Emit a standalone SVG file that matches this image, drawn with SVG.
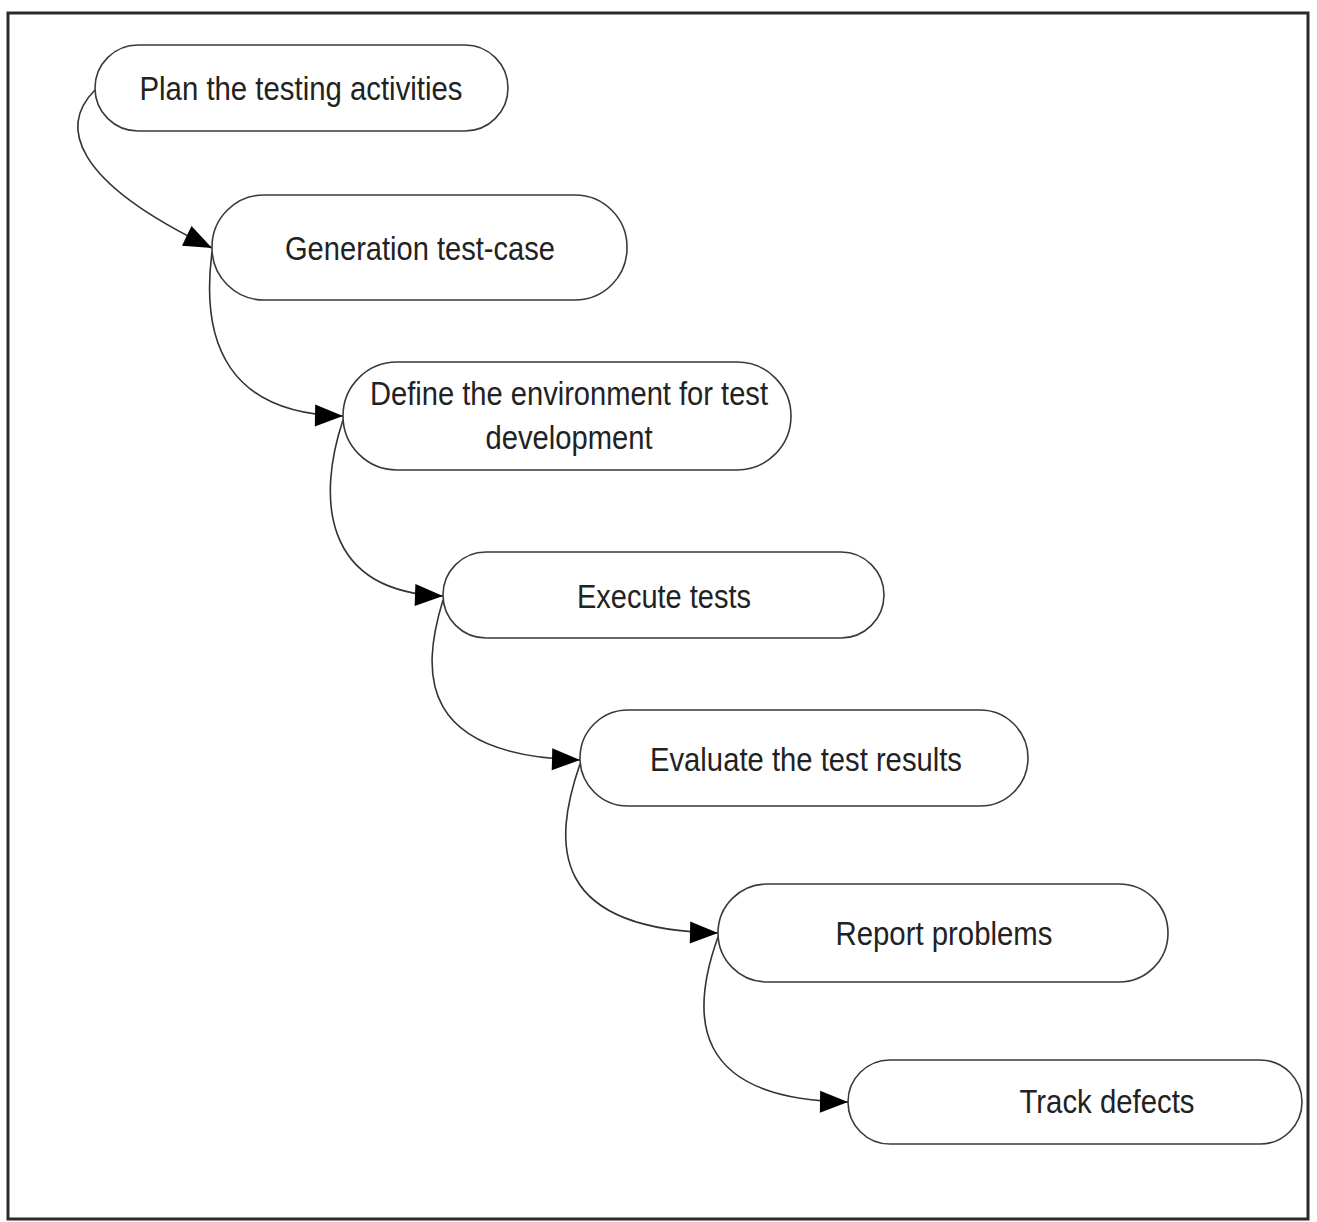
<svg xmlns="http://www.w3.org/2000/svg" width="1317" height="1222" viewBox="0 0 1317 1222">
  <style>
    .node { fill: #ffffff; stroke: #3a3a3a; stroke-width: 1.6; }
    .lbl { font-family: "Liberation Sans", Arial, sans-serif; font-size: 34px; fill: #222222; text-anchor: middle; }
    .conn { fill: none; stroke: #333333; stroke-width: 1.6; marker-end: url(#arrow); }
  </style>
  <defs>
    <marker id="arrow" markerUnits="userSpaceOnUse" markerWidth="30" markerHeight="24" refX="29" refY="12" orient="auto">
      <path d="M1,1 L29,12 L1,23 z" fill="#000000"/>
    </marker>
  </defs>
  <rect x="0" y="0" width="1317" height="1222" fill="#ffffff"/>
  <rect x="8" y="13" width="1300" height="1206" fill="none" stroke="#2a2a2a" stroke-width="3"/>

  <g id="connectors">
    <path class="conn" d="M95,90 C60,125 70,180 212,248"/>
    <path class="conn" d="M212,252 C200,345 230,414 343,416"/>
    <path class="conn" d="M343,420 C318,495 320,592 443,596"/>
    <path class="conn" d="M443,600 C420,675 420,756 580,760"/>
    <path class="conn" d="M580,764 C552,845 550,930 718,933"/>
    <path class="conn" d="M718,937 C690,1015 690,1100 848,1102"/>
  </g>

  <g id="node1">
    <rect class="node" x="95" y="45" width="413" height="86" rx="43" ry="43"/>
    <text class="lbl" x="301" y="100" textLength="323" lengthAdjust="spacingAndGlyphs">Plan the testing activities</text>
  </g>
  <g id="node2">
    <rect class="node" x="212" y="195" width="415" height="105" rx="52" ry="52"/>
    <text class="lbl" x="420" y="260" textLength="270" lengthAdjust="spacingAndGlyphs">Generation test-case</text>
  </g>
  <g id="node3">
    <rect class="node" x="343" y="362" width="448" height="108" rx="54" ry="54"/>
    <text class="lbl" x="569" y="405" textLength="398" lengthAdjust="spacingAndGlyphs">Define the environment for test</text>
    <text class="lbl" x="569" y="449" textLength="167" lengthAdjust="spacingAndGlyphs">development</text>
  </g>
  <g id="node4">
    <rect class="node" x="443" y="552" width="441" height="86" rx="43" ry="43"/>
    <text class="lbl" x="664" y="608" textLength="174" lengthAdjust="spacingAndGlyphs">Execute tests</text>
  </g>
  <g id="node5">
    <rect class="node" x="580" y="710" width="448" height="96" rx="48" ry="48"/>
    <text class="lbl" x="806" y="771" textLength="312" lengthAdjust="spacingAndGlyphs">Evaluate the test results</text>
  </g>
  <g id="node6">
    <rect class="node" x="718" y="884" width="450" height="98" rx="49" ry="49"/>
    <text class="lbl" x="944" y="945" textLength="217" lengthAdjust="spacingAndGlyphs">Report problems</text>
  </g>
  <g id="node7">
    <rect class="node" x="848" y="1060" width="454" height="84" rx="42" ry="42"/>
    <text class="lbl" x="1107" y="1113" textLength="175" lengthAdjust="spacingAndGlyphs">Track defects</text>
  </g>
</svg>
